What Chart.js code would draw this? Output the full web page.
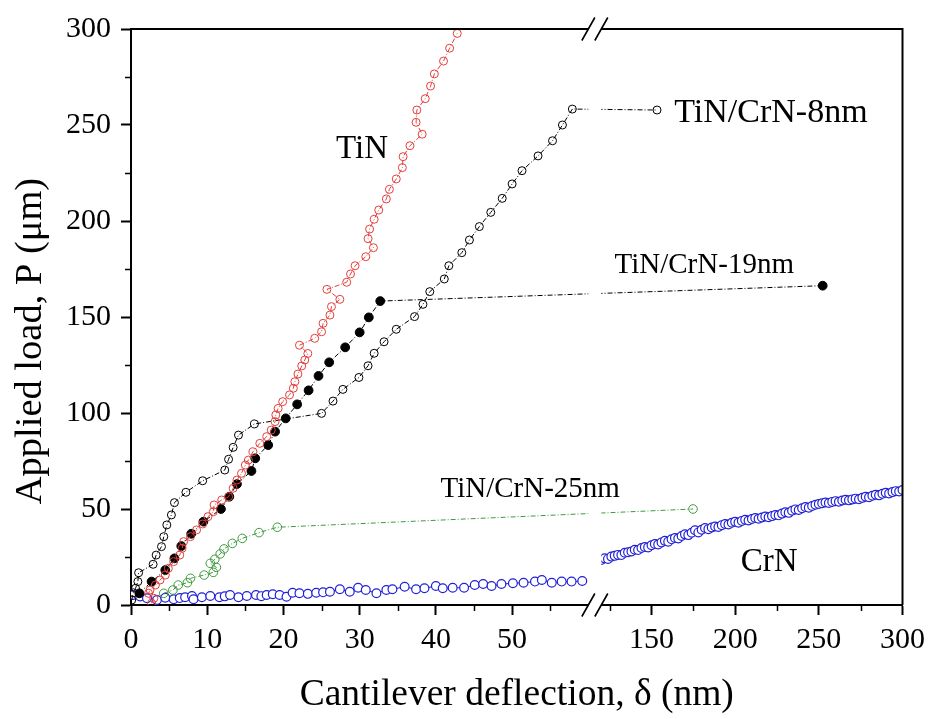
<!DOCTYPE html>
<html>
<head>
<meta charset="utf-8">
<script src="https://cdn.jsdelivr.net/npm/chart.js@4.4.1/dist/chart.umd.min.js"></script>
<style>
  html, body { margin: 0; padding: 0; background: #fff; }
  #wrap { width: 932px; height: 719px; position: relative; }
</style>
</head>
<body>
<div id="wrap"><canvas id="chart"></canvas></div>
<script>
// values: deflection (nm) and applied load
const tinDefl = [2.7, 3.0, 2.3, 2.5, 3.2, 3.8, 4.5, 4.9, 5.6, 6.4,
  6.7, 6.9, 7.8, 8.6, 9.4, 10.1, 10.8, 10.9, 11.9, 12.8,
  13.4, 13.9, 14.5, 15.0, 15.4, 16.0, 16.9, 17.8, 18.4, 18.9,
  19.0, 19.3, 19.9, 20.8, 21.3, 21.5, 21.9, 22.4, 22.8, 23.2,
  22.1, 24.1, 25.0, 25.2, 26.1, 26.3, 27.4, 25.7, 28.3, 28.8,
  29.4, 30.8, 31.8, 31.1, 31.3, 31.9, 32.5, 33.5, 33.9, 34.8,
  35.6, 35.7, 36.6, 38.2, 37.4, 37.5, 38.6, 39.3, 39.8, 41.0,
  41.8, 42.8];
const tinLoad = [0.9, 3.5, 6.1, 7.8, 10.4, 13.0, 15.6, 19.1, 22.6, 26.0,
  29.5, 33.0, 35.6, 39.1, 42.2, 46.0, 48.6, 52.1, 54.7, 56.4,
  60.8, 65.1, 68.6, 72.9, 75.5, 79.8, 84.2, 87.7, 91.1, 95.5,
  99.0, 102.4, 105.9, 109.4, 112.9, 116.3, 120.3, 124.5, 127.6, 131.0,
  135.3, 138.9, 142.3, 146.7, 151.0, 155.4, 159.2, 164.4, 168.1, 172.4,
  176.7, 181.4, 186.1, 190.8, 195.8, 200.9, 205.7, 211.5, 216.5, 221.9,
  227.8, 233.5, 239.2, 245.2, 251.4, 257.8, 263.7, 270.3, 276.6, 283.3,
  290.0, 297.7];

const d8Defl = [0.1, 0.3, 0.6, 0.9, 1.0, 2.9, 3.3, 4.0, 4.3, 4.7,
  5.3, 5.7, 7.2, 9.4, 12.3, 12.8, 13.4, 14.1, 16.2, 25.0,
  26.5, 27.8, 29.9, 31.1, 31.9, 33.2, 34.8, 37.2, 38.3, 39.2,
  41.1, 41.7, 43.4, 44.4, 45.7, 47.2, 48.7, 50.0, 51.3, 53.4,
  55.3, 56.6, 57.9, 153.3];
const d8Load = [2.6, 6.4, 8.7, 12.2, 16.8, 21.2, 26.0, 30.4, 35.6, 41.7,
  46.9, 53.3, 58.7, 64.7, 70.3, 75.9, 82.1, 88.5, 94.3, 99.8,
  106.2, 112.3, 118.5, 124.6, 131.1, 137.1, 143.6, 150.2, 156.6, 163.2,
  169.8, 176.7, 183.5, 190.1, 197.1, 204.5, 211.8, 219.3, 226.2, 233.9,
  241.8, 250.0, 258.3, 257.8];

const d19Defl = [1.1, 2.7, 4.5, 5.7, 6.6, 7.9, 9.5, 11.8, 12.9, 13.9,
  15.8, 16.3, 18.0, 18.9, 20.3, 21.8, 23.3, 24.6, 26.0, 28.1,
  30.0, 31.2, 32.7, 252.3];
const d19Load = [6.1, 12.2, 18.2, 24.3, 30.7, 37.1, 43.4, 50.0, 56.4, 63.0,
  69.8, 76.4, 83.3, 90.3, 97.2, 104.5, 111.8, 119.3, 126.4, 134.2,
  142.0, 149.8, 158.3, 166.3];

const d25Defl = [4.3, 5.5, 6.2, 7.4, 7.8, 9.6, 10.8, 11.2, 10.4, 11.0,
  11.7, 12.2, 13.3, 14.6, 16.8, 19.2, 174.8];
const d25Load = [6.1, 7.8, 10.4, 11.6, 13.9, 15.6, 17.0, 19.6, 21.7, 23.8,
  26.6, 29.2, 32.1, 34.7, 37.7, 40.5, 50.0];

const crnLeftDefl = [0.3, 1.2, 2.1, 3.4, 4.5, 5.6, 6.4, 7.1, 8.0, 8.2,
  9.3, 10.4, 11.6, 12.3, 13.0, 14.1, 15.2, 16.4, 17.1, 17.8,
  18.6, 19.5, 20.4, 21.2, 22.1, 23.2, 24.3, 25.2, 26.1, 27.4,
  28.7, 29.8, 30.8, 32.2, 33.5, 34.3, 35.9, 37.4, 38.5, 40.0,
  40.9, 42.2, 43.7, 45.1, 46.2, 47.3, 48.6, 50.1, 51.5, 53.0,
  53.9, 55.2, 56.5, 57.8, 59.2];
const crnLeftLoad = [5.2, 4.4, 3.5, 2.6, 3.8, 3.0, 3.6, 4.0, 4.7, 3.0,
  4.0, 4.7, 4.0, 4.5, 5.2, 4.0, 4.7, 5.2, 4.6, 5.2,
  5.6, 5.2, 4.3, 6.4, 6.1, 5.8, 6.4, 6.6, 6.9, 8.2,
  6.9, 9.0, 7.8, 6.1, 7.8, 8.2, 9.5, 8.2, 8.7, 9.9,
  8.7, 9.0, 9.0, 10.4, 10.9, 9.9, 10.9, 11.3, 11.6, 12.2,
  13.0, 11.6, 12.2, 12.2, 12.5];

const crnRightDefl = [120, 122, 124, 126, 128, 130, 132, 134, 136, 138,
  140, 142, 144, 146, 148, 150, 152, 154, 156, 158,
  160, 162, 164, 166, 168, 170, 172, 174, 176, 178,
  180, 182, 184, 186, 188, 190, 192, 194, 196, 198,
  200, 202, 204, 206, 208, 210, 212, 214, 216, 218,
  220, 222, 224, 226, 228, 230, 232, 234, 236, 238,
  240, 242, 244, 246, 248, 250, 252, 254, 256, 258,
  260, 262, 264, 266, 268, 270, 272, 274, 276, 278,
  280, 282, 284, 286, 288, 290, 292, 294, 296, 298, 300];
const crnRightLoad = [23.4, 24.3, 24.0, 25.2, 25.6, 26.1, 26.0, 27.2, 27.5, 27.9,
  28.8, 28.6, 29.7, 30.2, 30.0, 31.1, 31.8, 31.5, 32.6, 33.4,
  33.0, 34.2, 34.9, 34.6, 35.9, 36.8, 36.4, 37.6, 38.9, 37.8,
  39.2, 40.1, 39.5, 40.4, 40.9, 40.6, 41.6, 42.2, 41.9, 42.8,
  43.3, 42.9, 43.8, 44.4, 44.0, 44.8, 45.3, 44.9, 45.6, 46.1,
  45.7, 46.3, 46.9, 46.7, 47.6, 48.3, 48.0, 49.1, 49.8, 49.5,
  50.4, 51.0, 50.7, 51.6, 52.2, 52.6, 53.0, 53.4, 53.1, 53.7,
  54.1, 53.8, 54.4, 54.8, 54.5, 55.0, 55.4, 55.1, 55.8, 56.4,
  56.1, 56.9, 57.4, 57.1, 57.9, 58.4, 58.1, 58.8, 59.3, 59.1, 59.9];

const xMajorTicks = [0, 10, 20, 30, 40, 50, 150, 200, 250, 300];
const xMinorTicks = [5, 15, 25, 35, 45, 55, 125, 175, 225, 275];
const yMinorTicks = [25, 75, 125, 175, 225, 275];

// curve labels, anchored in data units
const notes = [
  { text: 'TiN', x: 26.9, y: 232.7, size: 33 },
  { text: 'TiN/CrN-8nm', x: 163.6, y: 251.7, size: 34 },
  { text: 'TiN/CrN-19nm', x: 127.9, y: 172.9, size: 29 },
  { text: 'TiN/CrN-25nm', x: 40.6, y: 56.4, size: 29 },
  { text: 'CrN', x: 203.3, y: 17.9, size: 33 }
];

const SERIF = "'Liberation Serif', 'Times New Roman', serif";
const RED = '#e2403d', GREEN = '#3e9a3e', BLUE = '#2020d8', BLACK = '#000';

// x axis with a break: 0-60 on the left part, 120-300 on the right part
const breakLow = 60, breakHigh = 120, xMax = 300;
const leftShare = 0.5928, rightStart = 0.6096;

class BrokenScale extends Chart.LinearScale {
  toDecimal(v) {
    if (v <= breakLow) return v / breakLow * leftShare;
    if (v >= breakHigh) return rightStart + (v - breakHigh) / (xMax - breakHigh) * (1 - rightStart);
    return leftShare + (v - breakLow) / (breakHigh - breakLow) * (rightStart - leftShare);
  }
  getPixelForValue(v) {
    if (v === null || v === undefined || isNaN(v)) return NaN;
    return this.getPixelForDecimal(this.toDecimal(v));
  }
  getValueForPixel(p) {
    const d = this.getDecimalForPixel(p);
    if (d <= leftShare) return d / leftShare * breakLow;
    if (d >= rightStart) return breakHigh + (d - rightStart) / (1 - rightStart) * (xMax - breakHigh);
    return breakLow + (d - leftShare) / (rightStart - leftShare) * (breakHigh - breakLow);
  }
}
BrokenScale.id = 'broken';
BrokenScale.defaults = Chart.LinearScale.defaults;
Chart.register(BrokenScale);

function pts(xs, ys) {
  return xs.map((x, i) => ({ x: x, y: ys[i] }));
}

const dashDot = [5, 2, 1, 2];

function series(label, xs, ys, color, opts) {
  return Object.assign({
    label: label,
    data: pts(xs, ys),
    showLine: true,
    borderColor: color,
    borderWidth: 1,
    borderDash: dashDot,
    pointStyle: 'circle',
    pointRadius: 4,
    pointBorderWidth: 1,
    pointBorderColor: color,
    pointBackgroundColor: 'rgba(255,255,255,0)'
  }, opts || {});
}

const breakPlugin = {
  id: 'breakPlugin',
  afterDraw(chart) {
    const { ctx, chartArea: a } = chart;
    const x = chart.scales.x, y = chart.scales.y;
    ctx.save();
    ctx.strokeStyle = BLACK;
    ctx.lineWidth = 2;
    ctx.beginPath();
    ctx.moveTo(a.left, a.top);
    ctx.lineTo(a.right, a.top);
    ctx.lineTo(a.right, a.bottom);
    ctx.stroke();

    ctx.lineWidth = 1.5;
    ctx.beginPath();
    xMinorTicks.forEach(v => {
      const px = Math.round(x.getPixelForValue(v)) + 0.5;
      ctx.moveTo(px, a.bottom);
      ctx.lineTo(px, a.bottom + 6);
    });
    yMinorTicks.forEach(v => {
      const py = Math.round(y.getPixelForValue(v)) + 0.5;
      ctx.moveTo(a.left, py);
      ctx.lineTo(a.left - 6, py);
    });
    ctx.stroke();

    const b0 = x.getPixelForValue(breakLow), b1 = x.getPixelForValue(breakHigh);
    ctx.fillStyle = '#fff';
    ctx.fillRect(b0, a.top - 4, b1 - b0, a.bottom - a.top + 8);
    ctx.lineWidth = 1.6;
    ctx.beginPath();
    [a.top, a.bottom].forEach(yy => {
      [b0, b1].forEach(bx => {
        ctx.moveTo(bx - 6.5, yy + 11.5);
        ctx.lineTo(bx + 6.5, yy - 11.5);
      });
    });
    ctx.stroke();

    ctx.fillStyle = BLACK;
    ctx.textAlign = 'left';
    ctx.textBaseline = 'alphabetic';
    notes.forEach(n => {
      ctx.font = n.size + 'px ' + SERIF;
      ctx.fillText(n.text, x.getPixelForValue(n.x), y.getPixelForValue(n.y));
    });
    ctx.restore();
  }
};

new Chart(document.getElementById('chart'), {
  type: 'scatter',
  data: {
    datasets: [
      series('TiN', tinDefl, tinLoad, RED),
      series('TiN/CrN-19nm', d19Defl, d19Load, BLACK, {
        pointRadius: 4.4, pointBackgroundColor: BLACK
      }),
      series('TiN/CrN-8nm', d8Defl, d8Load, BLACK),
      series('TiN/CrN-25nm', d25Defl, d25Load, GREEN, { pointRadius: 4.3 }),
      series('CrN', crnLeftDefl, crnLeftLoad, BLUE, {
        borderDash: [], pointRadius: 4.4, pointBorderWidth: 1.2, pointBackgroundColor: '#fff'
      }),
      series('CrN', crnRightDefl, crnRightLoad, BLUE, {
        borderDash: [], pointRadius: 4.4, pointBorderWidth: 1.2, pointBackgroundColor: '#fff'
      })
    ]
  },
  options: {
    responsive: true,
    maintainAspectRatio: false,
    animation: false,
    layout: { padding: { left: 0, right: 27, top: 29, bottom: 0 } },
    plugins: {
      legend: { display: false },
      tooltip: { enabled: false }
    },
    scales: {
      x: {
        type: 'broken',
        min: 0,
        max: xMax,
        afterBuildTicks: s => { s.ticks = xMajorTicks.map(v => ({ value: v })); },
        afterFit: s => { s.height = 114; },
        grid: { drawOnChartArea: false, drawTicks: true, tickLength: 10, tickWidth: 2, tickColor: BLACK },
        border: { display: true, color: BLACK, width: 2 },
        ticks: {
          autoSkip: false, maxRotation: 0, color: BLACK, padding: 7,
          font: { family: SERIF, size: 30 }
        },
        title: {
          display: true,
          text: 'Cantilever deflection, δ (nm)',
          color: BLACK,
          font: { family: SERIF, size: 37.5 },
          padding: { top: 0, bottom: 1 }
        }
      },
      y: {
        min: 0,
        max: 300,
        afterFit: s => { s.width = 131; },
        grid: { drawOnChartArea: false, drawTicks: true, tickLength: 10, tickWidth: 2, tickColor: BLACK },
        border: { display: true, color: BLACK, width: 2 },
        ticks: {
          stepSize: 50, color: BLACK, padding: 10,
          font: { family: SERIF, size: 30 }
        },
        title: {
          display: true,
          text: 'Applied load, P (μm)\u00a0\u00a0\u00a0\u00a0\u00a0',
          color: BLACK,
          font: { family: SERIF, size: 38.5 },
          padding: { top: 8, bottom: 0 }
        }
      }
    }
  },
  plugins: [breakPlugin]
});
</script>
</body>
</html>
